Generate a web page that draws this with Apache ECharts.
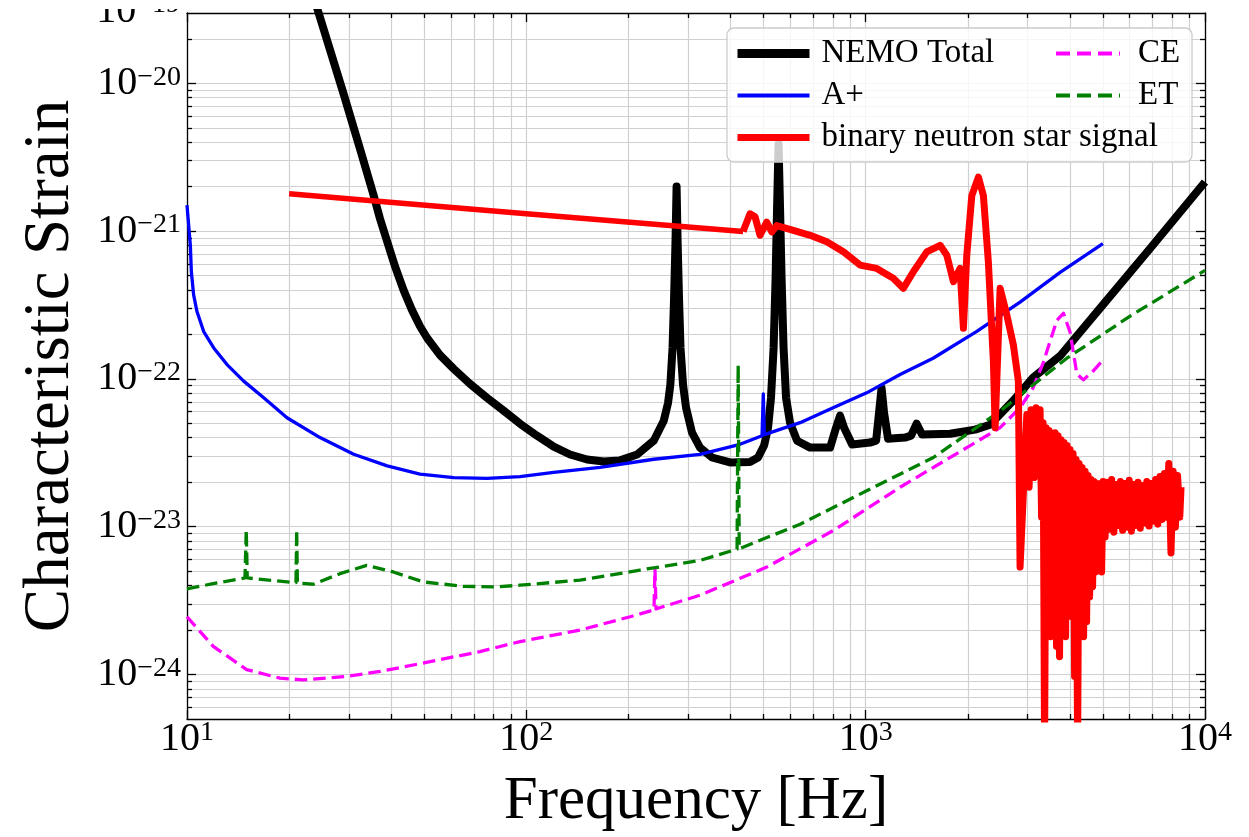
<!DOCTYPE html>
<html><head><meta charset="utf-8">
<script src="https://cdn.jsdelivr.net/npm/echarts@6/dist/echarts.min.js"></script>
<style>html,body{margin:0;padding:0;background:#fff}#c{width:1249px;height:837px}</style>
</head><body><div id="c"></div>
<script>
// ---------------- data (frequency in Hz, characteristic strain) ----------------
const nemoFreq = [20, 24.4, 28.96, 32.35, 35.5, 37.06, 38.9, 41.02, 43.5, 46.04, 48.6, 51.0, 55.68, 61.1, 68.25, 76.6, 85.8, 95.8, 107.5, 120.4, 134.5, 151, 169, 188.9, 212.1, 237.4, 254.1, 261.6, 265.7, 269.7, 272.5, 275.3, 277.2, 279.0, 281.8, 284.7, 289.6, 295.6, 307.8, 325, 352.6, 398.4, 456, 481.8, 501.9, 515.7, 526, 535.4, 542.7, 548.1, 553.7, 559.4, 565.2, 572.9, 582.6, 598.6, 627.7, 686, 759.2, 785.6, 818, 840.5, 863.6, 912, 1030, 1073.5, 1095, 1114, 1133, 1164, 1306, 1361, 1413, 1466, 1773, 2101, 2326, 2719, 3114, 3741, 4909, 6889, 10000];
const nemoStrain = [1.32e-19, 3.02e-20, 8.43e-21, 3.60e-21, 1.74e-21, 1.21e-21, 8.49e-22, 5.77e-22, 3.97e-22, 2.92e-22, 2.27e-22, 1.89e-22, 1.45e-22, 1.17e-22, 9.25e-23, 7.45e-23, 6.09e-23, 4.98e-23, 4.13e-23, 3.48e-23, 3.08e-23, 2.85e-23, 2.76e-23, 2.81e-23, 3.08e-23, 3.82e-23, 5.21e-23, 6.89e-23, 9.12e-23, 1.62e-22, 3.51e-22, 8.9e-22, 2.0e-21, 8.9e-22, 3.51e-22, 1.62e-22, 9.12e-23, 6.38e-23, 4.33e-23, 3.43e-23, 2.94e-23, 2.72e-23, 2.74e-23, 2.94e-23, 3.54e-23, 4.68e-23, 7.45e-23, 1.62e-22, 4.79e-22, 1.42e-21, 3.88e-21, 1.42e-21, 4.79e-22, 1.62e-22, 7.45e-23, 5.06e-23, 3.82e-23, 3.43e-23, 3.43e-23, 3.43e-23, 4.68e-23, 5.64e-23, 4.68e-23, 3.60e-23, 3.71e-23, 3.82e-23, 5.9e-23, 8.69e-23, 5.9e-23, 3.94e-23, 4.01e-23, 4.13e-23, 4.98e-23, 4.2e-23, 4.26e-23, 4.54e-23, 4.90e-23, 7.11e-23, 1.02e-22, 1.43e-22, 3.01e-22, 7.62e-22, 2.15e-21];

const apFreq = [10, 10.23, 10.30, 10.46, 10.70, 11.20, 11.99, 13.12, 14.69, 16.83, 19.71, 24.66, 30.99, 38.9, 48.6, 61.1, 76.6, 95.8, 120.4, 164.9, 237.4, 325, 426.4, 495, 499.2, 502.9, 640.9, 801.7, 1007, 1263, 1580, 2126, 2851, 3741, 5000];
const apStrain = [1.5e-21, 8.02e-22, 5.31e-22, 3.70e-22, 2.86e-22, 2.09e-22, 1.62e-22, 1.25e-22, 9.66e-23, 7.45e-23, 5.46e-23, 4.01e-23, 3.09e-23, 2.58e-23, 2.27e-23, 2.15e-23, 2.12e-23, 2.18e-23, 2.33e-23, 2.52e-23, 2.86e-23, 3.09e-23, 3.61e-23, 4.13e-23, 7.92e-23, 4.2e-23, 5.06e-23, 6.38e-23, 8.05e-23, 1.07e-22, 1.38e-22, 2.1e-22, 3.31e-22, 5.26e-22, 8.24e-22];

const ceFreq = [10, 11.95, 14.99, 18.79, 22.0, 29.6, 37.1, 52.0, 73.0, 95.8, 144, 202.2, 237.8, 239.4, 241.1, 325, 511, 803, 1263, 1986, 2490, 2851, 3114, 3333, 3659, 3826, 4004, 4191, 4382, 4680, 5000];
const ceStrain = [2.46e-24, 1.55e-24, 1.08e-24, 9.45e-25, 9.2e-25, 9.7e-25, 1.05e-24, 1.22e-24, 1.43e-24, 1.67e-24, 2.0e-24, 2.46e-24, 2.74e-24, 5.18e-24, 2.78e-24, 3.44e-24, 5.33e-24, 9.42e-24, 1.85e-23, 3.43e-23, 4.68e-23, 6.38e-23, 8.69e-23, 1.28e-22, 2.49e-22, 2.78e-22, 2.07e-22, 1.08e-22, 9.85e-23, 1.13e-22, 1.34e-22];

const etFreq = [10, 11.93, 14.82, 14.85, 14.95, 15.05, 20.95, 21.05, 21.15, 23.56, 28.24, 33.85, 40.55, 49.7, 65.2, 81.8, 95.8, 144, 216.3, 325, 417.8, 421, 424, 640.9, 1007, 1583, 2490, 3915, 6015, 10000];
const etStrain = [3.79e-24, 4.12e-24, 4.50e-24, 4.5e-24, 9.5e-24, 4.5e-24, 4.18e-24, 9.5e-24, 4.17e-24, 4.08e-24, 4.81e-24, 5.48e-24, 4.94e-24, 4.23e-24, 3.95e-24, 3.92e-24, 4.02e-24, 4.35e-24, 5.09e-24, 5.91e-24, 7.05e-24, 1.24e-22, 7.1e-24, 1.04e-23, 1.75e-23, 2.94e-23, 6.05e-23, 1.38e-22, 2.66e-22, 5.42e-22];

// binary neutron star signal: inspiral part and post-merger part
const bnsInspiralFreq = [20, 100, 435.2];
const bnsInspiralStrain = [1.79e-21, 1.31e-21, 9.93e-22];
const bnsMergerFreq = [435.2, 456.3, 472, 488.4, 511, 528.9, 547, 612.2, 686, 768, 859.7, 962.7, 1078, 1206, 1291, 1382, 1514, 1657, 1734, 1814, 1898, 1941, 1986, 2055, 2149, 2223, 2299, 2379, 2407, 2490, 2606, 2724, 2818, 2851, 2985, 3031, 3073, 3136, 3179, 3223,
  3266, 3299, 3333, 3367, 3402, 3436, 3471, 3507, 3543, 3579, 3615, 3652, 3690, 3727, 3766, 3804, 3843, 3883, 3923, 3963, 4003, 4044, 4086, 4128, 4170, 4213, 4256, 4299, 4343, 4388, 4433, 4478, 4524, 4570, 4617, 4664, 4712, 4760, 4809, 4858, 4908, 4958, 5009,
  5076, 5152, 5230, 5308, 5388, 5469, 5551, 5635, 5719, 5805, 5893, 5981, 6071, 6162, 6255, 6349, 6444, 6541, 6639, 6739, 6840, 6943, 7047, 7153, 7260, 7369, 7480, 7592, 7706, 7822, 7939, 8058, 8179, 8302, 8427, 8500];
const bnsMergerStrain = [9.93e-22, 1.31e-21, 1.25e-21, 9.37e-22, 1.15e-21, 9.89e-22, 1.09e-21, 1.01e-21, 9.37e-22, 8.46e-22, 7.24e-22, 5.89e-22, 5.59e-22, 4.79e-22, 4.1e-22, 5.31e-22, 7.24e-22, 8.02e-22, 6.87e-22, 4.55e-22, 5.59e-22, 2.2e-22, 6.87e-22, 1.74e-21, 2.32e-21, 1.74e-21, 6.21e-22, 1.31e-22, 4.68e-23, 4.1e-22, 2.71e-22, 1.70e-22, 9.66e-23, 5.33e-24, 5.75e-23, 1.85e-23, 6.18e-23, 2.15e-23, 6.38e-23, 2.52e-23,
  6.18e-23, 1.16e-23, 5.06e-23, 3.0e-25, 4.68e-23, 3.35e-24, 4.47e-23, 1.8e-24, 4.26e-23, 4.57e-24, 4.33e-23, 1.55e-24, 4.13e-23, 1.32e-24, 3.88e-23, 3.35e-24, 3.71e-23, 1.8e-24, 3.54e-23, 6.24e-24, 3.33e-23, 2.46e-24, 3.13e-23, 9.7e-25, 2.85e-23, 3.0e-25, 2.68e-23, 3.35e-24, 2.52e-23, 1.8e-24, 2.37e-23, 2.28e-24, 2.22e-23, 3.35e-24, 2.09e-23, 3.92e-24, 2.02e-23, 4.94e-24, 1.96e-23, 6.24e-24, 1.96e-23, 4.94e-24, 2.02e-23,
  8.49e-24, 2.0e-23, 9.62e-24, 2.09e-23, 9.18e-24, 1.93e-23, 1.02e-23, 2.02e-23, 9.46e-24, 1.96e-23, 9.93e-24, 2.06e-23, 9.33e-24, 1.93e-23, 1.02e-23, 2.0e-23, 9.77e-24, 1.9e-23, 1.06e-23, 2.02e-23, 1.01e-23, 1.96e-23, 1.09e-23, 2.09e-23, 1.04e-23, 2.19e-23, 1.12e-23, 2.29e-23, 1.16e-23, 2.68e-23, 6.64e-24, 2.37e-23, 9.93e-24, 2.22e-23, 1.16e-23, 1.85e-23];

// axes
const xRange = [10, 10000];
const yRange = [5.0e-25, 2.99e-20];
const xMajorTicks = [10, 100, 1000, 10000];
const yMajorTicks = [1e-24, 1e-23, 1e-22, 1e-21, 1e-20];
const minorMantissas = [2, 3, 4, 5, 6, 7, 8, 9];
const xMinorDecades = [10, 100, 1000];
const yMinorDecades = [1e-25, 1e-24, 1e-23, 1e-22, 1e-21, 1e-20];

const seriesNames = ['NEMO Total', 'A+', 'binary neutron star signal', 'CE', 'ET'];
const strayLabel = '−19';

// ---------------- chart ----------------
const FONT = 'Liberation Serif';
const lg = v => Math.log10(v);
const toXY = (f, h) => f.map((v, i) => [lg(v), lg(h[i])]);

const xMin = lg(xRange[0]), xMax = lg(xRange[1]);
const yMin = lg(yRange[0]), yMax = lg(yRange[1]);
const xMajor = xMajorTicks.map(lg);
const yMajor = yMajorTicks.map(lg);
const xMinor = [];
xMinorDecades.forEach(d => minorMantissas.forEach(m => xMinor.push(lg(m * d))));
const yMinor = [];
yMinorDecades.forEach(d => minorMantissas.forEach(m => { const v = lg(m * d); if (v > yMin && v < yMax) yMinor.push(v); }));

const rich = {
  b: { fontFamily: FONT, fontSize: 40, lineHeight: 40, padding: [5, 0, 0, 0], verticalAlign: 'bottom', color: '#000' },
  s: { fontFamily: FONT, fontSize: 28, lineHeight: 28, verticalAlign: 'top', color: '#000' }
};
const frameLine = { color: '#000', width: 1.3 };
const grid = { show: true, lineStyle: { color: '#d0d0d0', width: 1.2 } };

function axis(pos, min, max, ticks, len, isMajor, label, split, extra) {
  return Object.assign({
    type: 'value', position: pos, min: min, max: max,
    axisLine: { show: isMajor, onZero: false, lineStyle: frameLine },
    axisTick: { show: true, inside: true, length: len, customValues: ticks, lineStyle: frameLine },
    axisLabel: label || { show: false },
    splitLine: split ? grid : { show: false }
  }, extra || {});
}

const xLabel = {
  show: true, customValues: xMajor, margin: 0, rich: rich,
  formatter: v => '{b|10}{s|' + Math.round(v) + '}'
};
const yLabel = {
  show: true, customValues: yMajor, margin: 6, rich: rich,
  formatter: v => '{b|10}{s|−' + Math.round(-v) + '}'
};

const xAxes = [
  axis('bottom', xMin, xMax, xMajor, 9, true, xLabel, true, {
    name: 'Frequency [Hz]', nameLocation: 'middle', nameGap: 52,
    nameTextStyle: { fontFamily: FONT, fontSize: 61, lineHeight: 61, color: '#000' }
  }),
  axis('bottom', xMin, xMax, xMinor, 5, false, null, true),
  axis('top', xMin, xMax, xMajor, 9, true, null, false),
  axis('top', xMin, xMax, xMinor, 5, false, null, false)
];
const yAxes = [
  axis('left', yMin, yMax, yMajor, 9, true, yLabel, true, {
    name: 'Characteristic Strain', nameLocation: 'middle', nameGap: 104, nameRotate: 90,
    nameTextStyle: { fontFamily: FONT, fontSize: 65, lineHeight: 65, color: '#000' }
  }),
  axis('left', yMin, yMax, yMinor, 5, false, null, true),
  axis('right', yMin, yMax, yMajor, 9, true, null, false),
  axis('right', yMin, yMax, yMinor, 5, false, null, false)
];

const DASH = [12.5, 6];
function line(name, f, h, color, width, dash) {
  return {
    name: name, type: 'line', data: toXY(f, h), xAxisIndex: 0, yAxisIndex: 0,
    showSymbol: false, symbol: 'none', animation: false, silent: true, clip: true,
    lineStyle: { color: color, width: width, type: dash ? DASH : 'solid', join: 'round', cap: 'butt' },
    itemStyle: { color: color }
  };
}

const series = [
  line(seriesNames[0], nemoFreq, nemoStrain, '#000000', 8),
  line(seriesNames[1], apFreq, apStrain, '#0000ff', 3.3),
  line(seriesNames[3], ceFreq, ceStrain, '#ff00ff', 3.3, true),
  line(seriesNames[4], etFreq, etStrain, '#008000', 3.3, true),
  line(seriesNames[2], bnsInspiralFreq, bnsInspiralStrain, '#ff0000', 5.5),
  line(seriesNames[2], bnsMergerFreq, bnsMergerStrain, '#ff0000', 7)
];

const hideSymbol = { opacity: 0, color: 'rgba(0,0,0,0)', borderWidth: 0 };
const legendText = pad => ({ fontFamily: FONT, fontSize: 33, lineHeight: 32, color: '#000', padding: [0, 0, 0, pad] });
const legends = [
  {
    orient: 'vertical', left: 733, top: 37, padding: 0, itemWidth: 72, itemHeight: 20, itemGap: 9, z: 10,
    selectedMode: false, textStyle: legendText(7),
    data: [
      { name: seriesNames[0], itemStyle: hideSymbol, lineStyle: { width: 9, type: 'solid' } },
      { name: seriesNames[1], itemStyle: hideSymbol, lineStyle: { width: 4, type: 'solid' } },
      { name: seriesNames[2], itemStyle: hideSymbol, lineStyle: { width: 7, type: 'solid' } }
    ]
  },
  {
    orient: 'vertical', left: 1054, top: 37, padding: 0, itemWidth: 64, itemHeight: 20, itemGap: 9, z: 10,
    selectedMode: false, textStyle: legendText(13),
    data: [
      { name: seriesNames[3], itemStyle: hideSymbol, lineStyle: { width: 4, type: [14, 7] } },
      { name: seriesNames[4], itemStyle: hideSymbol, lineStyle: { width: 4, type: [14, 7] } }
    ]
  }
];

const chart = echarts.init(document.getElementById('c'), null, { renderer: 'canvas' });
chart.setOption({
  backgroundColor: '#ffffff',
  animation: false,
  grid: { left: 187, right: 44, top: 13, bottom: 117, containLabel: false },
  xAxis: xAxes,
  yAxis: yAxes,
  legend: legends,
  series: series,
  graphic: [
    { type: 'rect', z: 8, shape: { x: 727, y: 28, width: 465, height: 134, r: 7 },
      style: { fill: 'rgba(255,255,255,0.8)', stroke: '#cccccc', lineWidth: 1.3 } },
    { type: 'text', z: 8, x: 180, y: 11,
      style: { text: '{b|10}{s|' + strayLabel + '}', rich: rich, align: 'right', verticalAlign: 'middle' } },
    { type: 'rect', z: 9, shape: { x: 60, y: 0, width: 126, height: 9 }, style: { fill: '#ffffff' } }
  ]
});
</script></body></html>
